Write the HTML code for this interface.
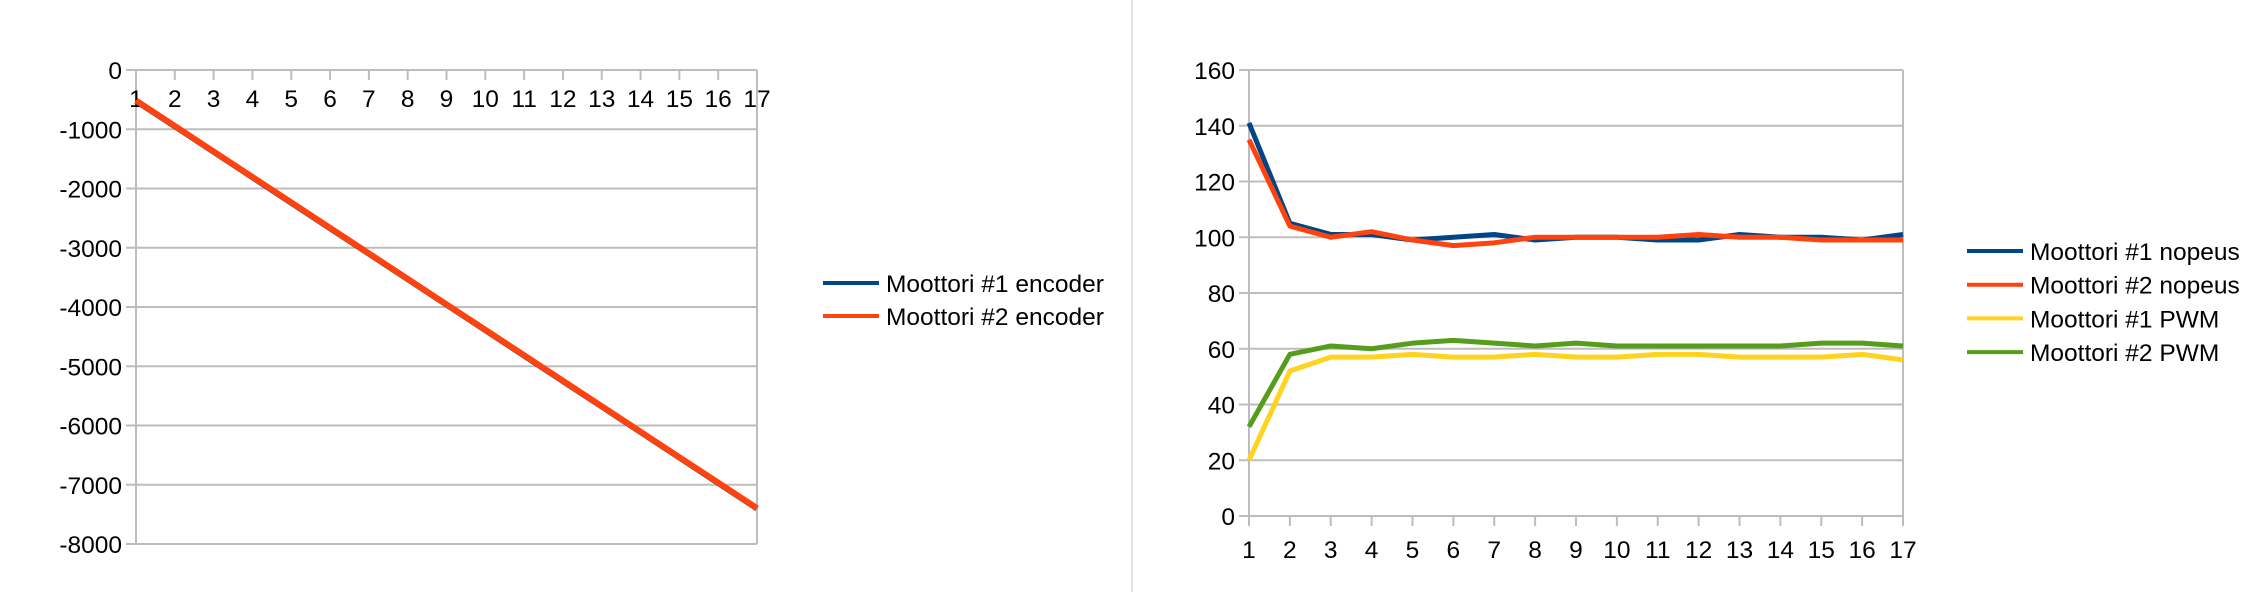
<!DOCTYPE html>
<html><head><meta charset="utf-8"><style>
body{margin:0;background:#fff;width:2258px;height:592px;overflow:hidden}
svg{display:block;font-family:"Liberation Sans",sans-serif}
</style></head><body>
<svg id="svg" width="2258" height="592">
<line x1="1132" y1="0" x2="1132" y2="592" stroke="#dcdcdc" stroke-width="1.5"/>
<g id="left"></g>
<g id="right"></g>
</svg>
<script>
const categories=[1,2,3,4,5,6,7,8,9,10,11,12,13,14,15,16,17];
const enc1=[-520,-950,-1380,-1810,-2240,-2670,-3100,-3530,-3960,-4390,-4820,-5250,-5680,-6110,-6540,-6970,-7400];
const enc2=[-515,-945,-1375,-1805,-2235,-2665,-3095,-3525,-3955,-4385,-4815,-5245,-5675,-6105,-6535,-6965,-7395];
const leftTicks=[0,-1000,-2000,-3000,-4000,-5000,-6000,-7000,-8000];
const nopeus1=[141,105,101,101,99,100,101,99,100,100,99,99,101,100,100,99,101];
const nopeus2=[135,104,100,102,99,97,98,100,100,100,100,101,100,100,99,99,99];
const pwm1=[20,52,57,57,58,57,57,58,57,57,58,58,57,57,57,58,56];
const pwm2=[32,58,61,60,62,63,62,61,62,61,61,61,61,61,62,62,61];
const rightTicks=[0,20,40,60,80,100,120,140,160];
const NS='http://www.w3.org/2000/svg';
function mk(p,t,a){const e=document.createElementNS(NS,t);for(const k in a)e.setAttribute(k,a[k]);p.appendChild(e);return e;}
function chart(g,o){
 const x=i=>o.x0+(i-1)*(o.x1-o.x0)/(categories.length-1);
 const y=v=>o.y0+(o.vmax-v)*(o.y1-o.y0)/(o.vmax-o.vmin);
 o.ticks.forEach(t=>{
  const l=mk(g,'line',{x1:o.x0-10,x2:o.x1,y1:y(t),y2:y(t),stroke:'#bdbdbd','stroke-width':2});
  
  
  const tx=mk(g,'text',{x:o.x0-14,y:y(t)+9,'text-anchor':'end','font-size':24.5,fill:'#000'});
  tx.textContent=t;
  
  
 });
 const yAx=mk(g,'line',{x1:o.x0,x2:o.x0,y1:o.y0,y2:o.y1+(o.top?0:10),stroke:'#bdbdbd','stroke-width':2});
 
 
 const rb=mk(g,'line',{x1:o.x1,x2:o.x1,y1:o.y0,y2:o.y1+(o.top?0:10),stroke:'#bdbdbd','stroke-width':2});
 
 
 const ay=o.top?o.y0:o.y1;
 categories.forEach(c=>{
  const tk=mk(g,'line',{x1:x(c),x2:x(c),y1:ay,y2:ay+10,stroke:'#bdbdbd','stroke-width':2});
  
  
  const tx=mk(g,'text',{x:x(c),y:ay+(o.top?37:42),'text-anchor':'middle','font-size':24.5,fill:'#000'});
  tx.textContent=c;
  
  
 });
 o.series.forEach((s,k)=>{
  const p=mk(g,'polyline',{points:s.data.map((v,i)=>x(categories[i])+','+y(v)).join(' '),fill:'none',stroke:s.color,'stroke-width':o.lw,'stroke-linejoin':'round'});
  
  
  const ly=o.ly+k*o.ld;
  const ll=mk(g,'line',{x1:o.lx,x2:o.lx+56,y1:ly,y2:ly,stroke:s.color,'stroke-width':4});
  
  
  const lt=mk(g,'text',{x:o.lx+63,y:ly+9,'font-size':24.5,fill:'#000'});
  lt.textContent=s.name;
  
  
 });
}
chart(document.getElementById('left'),{x0:136,x1:757,y0:70,y1:544,vmax:0,vmin:-8000,ticks:leftTicks,top:true,lw:6,lx:823,ly:283,ld:33,
 series:[{name:'Moottori #1 encoder',color:'#004586',data:enc1},{name:'Moottori #2 encoder',color:'#ff420e',data:enc2}]});
chart(document.getElementById('right'),{x0:1249,x1:1903,y0:70,y1:516,vmax:160,vmin:0,ticks:rightTicks,top:false,lw:5,lx:1967,ly:251,ld:33.7,
 series:[{name:'Moottori #1 nopeus',color:'#004586',data:nopeus1},{name:'Moottori #2 nopeus',color:'#ff420e',data:nopeus2},
 {name:'Moottori #1 PWM',color:'#ffd320',data:pwm1},{name:'Moottori #2 PWM',color:'#579d1c',data:pwm2}]});
</script>
</body></html>
